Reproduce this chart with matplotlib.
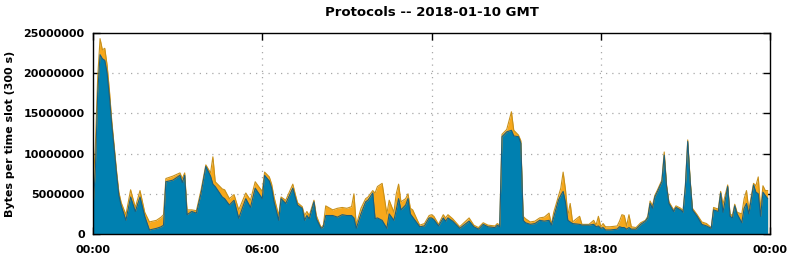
import matplotlib
matplotlib.use("Agg")
import matplotlib.pyplot as plt
import matplotlib.ticker as mticker
import numpy as np

# time slots (HH:MM) and per-slot bytes in millions
times = ["00:00","00:05","00:10","00:15","00:20","00:25","00:30","00:35","00:40","00:45",
         "00:50","00:55","01:00","01:10","01:20","01:30","01:40","01:50","02:00","02:15",
         "02:25","02:30","02:35","02:50","03:05","03:10","03:15","03:20","03:30","03:40",
         "03:50","04:00","04:10","04:15","04:20","04:35","04:40","04:50","05:00","05:10",
         "05:25","05:35","05:45","06:00","06:05","06:15","06:20","06:25","06:35","06:40",
         "06:50","07:05","07:10","07:15","07:25","07:30","07:35","07:40","07:50","07:55",
         "08:05","08:10","08:15","08:30","08:40","08:50","09:00","09:10","09:15","09:20",
         "09:30","09:40","09:45","09:55","10:00","10:05","10:15","10:25","10:30","10:40",
         "10:45","10:50","10:55","11:05","11:10","11:15","11:20","11:30","11:35","11:45",
         "11:55","12:00","12:05","12:15","12:25","12:30","12:35","12:45","13:00","13:20",
         "13:30","13:40","13:50","14:00","14:15","14:20","14:25","14:30","14:40","14:50",
         "14:55","15:05","15:10","15:15","15:20","15:30","15:40","15:50","16:00","16:10",
         "16:15","16:20","16:30","16:35","16:40","16:45","16:50","16:55","17:00","17:15",
         "17:20","17:35","17:45","17:50","17:55","18:00","18:05","18:10","18:20","18:35",
         "18:40","18:45","18:50","18:55","19:00","19:05","19:15","19:25","19:35","19:40",
         "19:45","19:50","19:55","20:00","20:10","20:15","20:20","20:25","20:35","20:40",
         "20:50","20:55","21:00","21:05","21:10","21:15","21:25","21:35","21:45","21:55",
         "22:00","22:10","22:15","22:20","22:30","22:35","22:40","22:45","22:50","23:00",
         "23:05","23:10","23:15","23:25","23:30","23:35","23:40","23:45","23:50","23:55"]

blue_mb = [3.0,8.0,17.5,22.3,21.8,21.6,20.0,17.0,13.5,10.6,
           7.5,4.8,3.5,1.7,4.6,2.8,4.6,2.2,0.5,0.7,
           0.9,1.1,6.5,6.7,7.3,6.4,7.3,2.4,2.8,2.6,
           5.1,8.4,7.2,6.2,5.9,4.6,4.4,3.6,4.2,1.95,
           4.4,3.3,5.7,4.4,7.3,6.6,5.7,4.0,1.7,4.4,
           3.8,5.7,4.6,3.6,3.2,1.7,2.3,1.9,4.0,1.9,
           0.7,0.9,2.3,2.3,2.1,2.4,2.3,2.3,2.0,0.7,
           2.5,4.0,4.2,5.1,1.9,2.0,1.7,0.7,2.5,1.7,
           3.0,4.4,3.0,3.6,4.4,2.5,2.1,1.3,0.9,1.0,
           2.0,2.0,1.8,1.0,2.0,1.6,2.0,1.6,0.7,1.6,
           0.9,0.6,1.2,0.9,0.8,1.1,0.9,12.1,12.7,12.9,
           12.2,12.1,11.3,1.7,1.4,1.2,1.3,1.7,1.6,1.7,
           1.1,2.1,4.2,4.8,5.3,3.9,1.7,1.5,1.3,1.2,
           1.1,1.1,1.2,0.9,1.0,0.7,0.8,0.5,0.5,0.6,
           0.9,0.8,0.8,0.6,0.8,0.6,0.6,1.2,1.6,2.0,
           3.8,3.2,4.6,5.2,6.5,9.8,5.9,3.8,2.8,3.3,
           3.0,2.7,5.9,11.5,6.7,3.0,2.2,1.2,1.0,0.7,
           3.0,2.8,5.1,2.7,5.9,2.2,2.0,3.5,2.5,1.4,
           3.2,3.8,2.5,6.1,5.2,5.0,2.2,5.2,4.8,4.4]

orange_mb = [2.5,3.0,2.0,2.0,1.1,1.5,1.0,0.8,0.5,0.4,
             0.4,0.4,0.4,0.7,0.9,0.5,0.8,0.5,1.0,1.0,
             1.2,1.3,0.4,0.5,0.3,0.5,0.3,0.6,0.2,0.3,
             0.4,0.2,0.4,3.4,0.6,1.0,1.1,0.8,0.7,1.05,
             0.7,0.9,0.8,0.9,0.4,0.5,0.5,0.6,0.6,0.2,
             0.4,0.5,0.4,0.3,0.2,0.6,0.5,0.4,0.2,0.4,
             0.1,0.2,1.2,0.7,1.1,0.9,0.9,1.1,3.0,0.4,
             0.7,0.4,0.4,0.3,3.2,3.9,4.6,1.8,1.7,1.0,
             2.0,1.8,1.0,0.8,0.6,0.7,0.9,0.4,0.2,0.3,
             0.3,0.4,0.4,0.2,0.4,0.4,0.4,0.3,0.2,0.4,
             0.2,0.2,0.2,0.2,0.2,0.2,0.2,0.3,0.3,2.3,
             0.7,0.2,0.3,0.5,0.5,0.3,0.3,0.3,0.5,0.9,
             0.1,0.6,0.5,0.9,2.4,1.6,0.6,2.3,0.2,1.0,
             0.1,0.1,0.5,0.2,1.2,0.2,0.5,0.4,0.4,0.4,
             0.7,1.6,1.5,0.4,1.6,0.3,0.2,0.2,0.1,0.2,
             0.3,0.3,0.2,0.2,0.2,0.4,0.2,0.2,0.2,0.2,
             0.2,0.2,0.2,0.2,0.2,0.2,0.2,0.3,0.3,0.1,
             0.3,0.3,0.2,1.0,0.2,0.3,0.3,0.2,0.2,1.1,
             1.2,1.6,0.5,0.2,0.8,2.1,0.8,0.8,0.6,1.0]

xtick_labels = ["00:00", "06:00", "12:00", "18:00", "00:00"]
title = "Protocols -- 2018-01-10 GMT"
ylabel = "Bytes per time slot (300 s)"

hours = np.array([int(t[:2]) + int(t[3:]) / 60.0 for t in times])
blue = np.array(blue_mb) * 1e6
orange = np.array(orange_mb) * 1e6
total = blue + orange

plt.rcParams['font.family'] = ['DejaVu Sans']
fig = plt.figure(figsize=(7.92, 2.59), dpi=100)
ax = fig.add_axes([93/792, 25/259, 677/792, 201/259])

c_blue = "#0080b0"
c_blue_edge = "#1a5f80"
c_orange = "#f7a81b"
c_orange_edge = "#c8901a"

ax.fill_between(hours, 0, total, color=c_orange, lw=0, zorder=2)
ax.fill_between(hours, 0, blue, color=c_blue, lw=0, zorder=3)
ax.plot(hours, total, color=c_orange_edge, lw=0.8, zorder=4)
ax.plot(hours, blue, color=c_blue_edge, lw=0.8, zorder=4)

ax.set_xlim(0, 24)
ax.set_ylim(0, 25e6)
ax.set_xticks([0, 6, 12, 18, 24])
ax.set_xticklabels(xtick_labels)
ax.set_yticks(np.arange(0, 25e6 + 1, 5e6))
ax.yaxis.set_major_formatter(mticker.FuncFormatter(lambda v, p: f"{int(v)}"))

for y in [5e6, 10e6, 15e6, 20e6]:
    ax.axhline(y, color="#a8a8a8", lw=0.9, ls=(0, (1, 4)), zorder=1)
for x in [6, 12, 18]:
    ax.axvline(x, color="#a8a8a8", lw=0.9, ls=(0, (1, 4)), zorder=1)

ax.tick_params(direction="in", length=5, width=1, top=True, right=True,
               labelsize=8)
ax.tick_params(axis="x", pad=8)
ax.tick_params(axis="y", pad=6)
for lab in ax.get_xticklabels() + ax.get_yticklabels():
    lab.set_fontweight("bold")
for s in ax.spines.values():
    s.set_linewidth(1.0)
    s.set_zorder(6)

ax.set_title(title, fontsize=9.5, fontweight="bold", pad=12)
ax.set_ylabel(ylabel, fontsize=8, fontweight="bold", labelpad=6)

fig.savefig("out.png", dpi=100)
